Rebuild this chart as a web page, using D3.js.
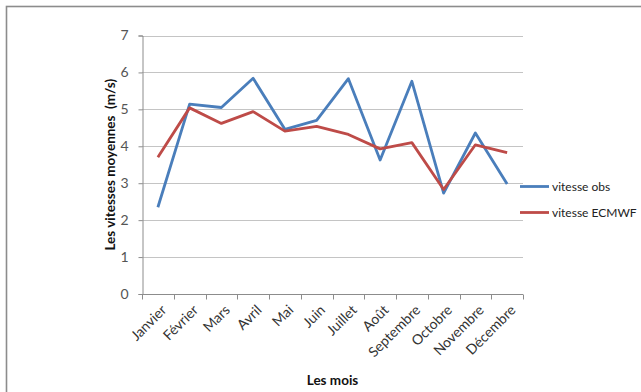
<!DOCTYPE html>
<html>
<head>
<meta charset="utf-8">
<script src="https://cdn.jsdelivr.net/npm/d3@7"></script>
<style>
  html, body { margin: 0; padding: 0; background: #fff; }
  svg { display: block; }
  text { font-family: Lato, "Open Sans", sans-serif; }
</style>
</head>
<body>
<svg id="chart" width="641" height="392"></svg>
<script>
// Monthly mean wind speeds (m/s): observations vs ECMWF
const months = ["Janvier", "Février", "Mars", "Avril", "Mai", "Juin", "Juillet", "Août",
                "Septembre", "Octobre", "Novembre", "Décembre"];
const vitesseObs   = [2.35, 5.14, 5.05, 5.84, 4.46, 4.70, 5.83, 3.63, 5.76, 2.73, 4.36, 2.98];
const vitesseEcmwf = [3.70, 5.04, 4.62, 4.94, 4.41, 4.54, 4.32, 3.93, 4.10, 2.83, 4.04, 3.83];
const yTicks = [0, 1, 2, 3, 4, 5, 6, 7];
const seriesNames = ["vitesse obs", "vitesse ECMWF"];
const seriesColors = ["#4a7ebb", "#be4b48"];

const svg = d3.select("#chart");

// outer chart frame
svg.append("rect")
  .attr("x", 6.5).attr("y", 6.5)
  .attr("width", 700).attr("height", 500)
  .attr("fill", "none").attr("stroke", "#8c8c8c").attr("stroke-width", 1.6);

const plot = { left: 142, right: 523, top: 35.5, bottom: 294 };

const x = d3.scaleBand().domain(months).range([plot.left, plot.right]);
const y = d3.scaleLinear().domain([0, 7]).range([plot.bottom, plot.top]);

// horizontal gridlines
svg.append("g")
  .selectAll("line")
  .data(yTicks.filter(d => d > 0))
  .join("line")
  .attr("x1", plot.left).attr("x2", plot.right)
  .attr("y1", d => Math.round(y(d)) + 0.5).attr("y2", d => Math.round(y(d)) + 0.5)
  .attr("stroke", "#c4c4c4").attr("stroke-width", 1.2);

// y axis
const yAxis = svg.append("g")
  .attr("transform", `translate(${plot.left + 0.5},0)`)
  .call(d3.axisLeft(y).tickValues(yTicks).tickSize(4).tickPadding(10).tickFormat(d3.format("d")));
yAxis.select(".domain").attr("stroke", "#8c8c8c");
yAxis.selectAll(".tick line").attr("stroke", "#8c8c8c");
yAxis.selectAll(".tick text")
  .attr("fill", "#555").style("font-size", "14px").style("font-family", "Lato, sans-serif");

// x axis with ticks on category boundaries
const xAxisG = svg.append("g")
  .attr("transform", `translate(0,${plot.bottom + 0.5})`);
xAxisG.append("line")
  .attr("x1", plot.left).attr("x2", plot.right)
  .attr("stroke", "#8c8c8c");
const bounds = months.map(m => x(m)).concat([plot.right]);
xAxisG.selectAll("line.tk")
  .data(bounds)
  .join("line").attr("class", "tk")
  .attr("x1", d => Math.round(d) + 0.5).attr("x2", d => Math.round(d) + 0.5)
  .attr("y1", 0).attr("y2", 5)
  .attr("stroke", "#8c8c8c");
xAxisG.selectAll("text")
  .data(months)
  .join("text")
  .attr("transform", d => `translate(${x(d) + x.bandwidth() / 2 + 6},${13}) rotate(-45)`)
  .attr("text-anchor", "end")
  .attr("dy", "0.35em")
  .attr("fill", "#333")
  .style("font-size", "14px")
  .text(d => d);

// series lines
const line = d3.line()
  .x((d, i) => x(months[i]) + x.bandwidth() / 2)
  .y(d => y(d));

[vitesseObs, vitesseEcmwf].forEach((vals, k) => {
  svg.append("path")
    .datum(vals)
    .attr("d", line)
    .attr("fill", "none")
    .attr("stroke", seriesColors[k])
    .attr("stroke-width", 2.8)
    .attr("stroke-linejoin", "round");
});

// axis titles
svg.append("text")
  .attr("transform", `translate(115,${(plot.top + plot.bottom) / 2}) rotate(-90)`)
  .attr("text-anchor", "middle")
  .attr("fill", "#111")
  .style("font-size", "13.5px").style("font-weight", "bold")
  .style("white-space", "pre")
  .text("Les vitesses moyennes  (m/s)");

svg.append("text")
  .attr("x", (plot.left + plot.right) / 2)
  .attr("y", 385)
  .attr("text-anchor", "middle")
  .attr("fill", "#111")
  .style("font-size", "13.5px").style("font-weight", "bold")
  .text("Les mois");

// legend
const legend = svg.append("g");
seriesNames.forEach((name, k) => {
  const ly = 186.5 + k * 26;
  legend.append("line")
    .attr("x1", 520).attr("x2", 549)
    .attr("y1", ly).attr("y2", ly)
    .attr("stroke", seriesColors[k]).attr("stroke-width", 2.8);
  legend.append("text")
    .attr("x", 552).attr("y", ly)
    .attr("dy", "0.35em")
    .attr("fill", "#222")
    .style("font-size", "12px")
    .text(name);
});
</script>
</body>
</html>
